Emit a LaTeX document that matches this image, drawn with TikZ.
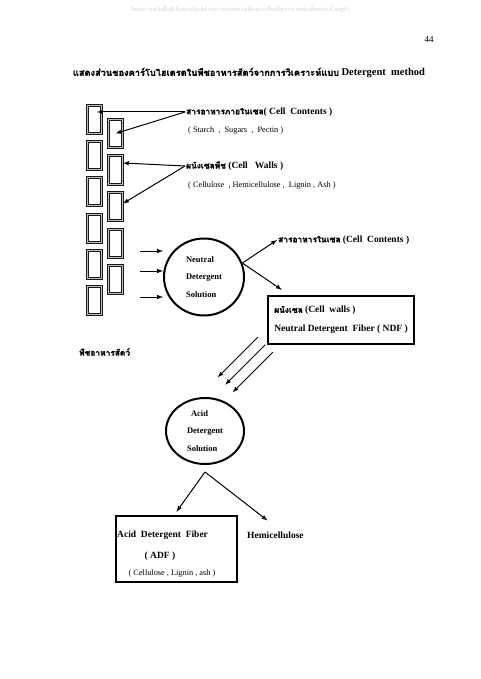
\documentclass[tikz,border=0pt]{standalone}
\usepackage{fontspec}
\setmainfont{Liberation Serif}
\newfontfamily\thaifont[Script=Thai, Scale=0.88, BoldFeatures={FakeBold=1.5}]{Loma}
\usetikzlibrary{arrows}
\usetikzlibrary{shapes.geometric}

\tikzset{
  cellbox/.style={draw=black!90, double=gray!50, double distance=1pt, line width=1pt,
    inner sep=0pt, minimum width=14pt, minimum height=28pt},
  solution/.style={ellipse, draw, line width=2pt, inner sep=0pt, align=left,
    font=\bfseries\fontsize{8.5}{17.5}\selectfont},
  fiberbox/.style={draw, line width=2.5pt, inner sep=0pt},
  lbl/.style={anchor=west, inner sep=1pt, font=\bfseries\fontsize{9.5}{19}\selectfont},
  sublbl/.style={anchor=west, inner sep=1pt, font=\fontsize{8.3}{9}\selectfont},
  arr/.style={-latex, line width=1pt},
}

\begin{document}
\begin{tikzpicture}[x=1pt, y=-1pt]
\useasboundingbox (0,0) rectangle (480,679);

\node[text=gray!35, font=\thaifont\fontsize{6.5}{7}\selectfont] (head) at (240,10)
  {โครงการหนังสืออิเล็กทรอนิกส์ด้านการเกษตร เฉลิมพระเกียรติพระบาทสมเด็จพระเจ้าอยู่หัว};
\node[font=\fontsize{9}{10}\selectfont] (page) at (429,40) {44};
\node[font=\bfseries\fontsize{10.5}{12}\selectfont] (title) at (249,73)
  {{\thaifont แสดงส่วนของคาร์โบไฮเดรตในพืชอาหารสัตว์จากการวิเคราะห์แบบ} Detergent\ \ method};

% plant cells
\foreach \i in {1,...,6}
  \node[cellbox] (l\i) at (94.5,{119.5+36.2*(\i-1)}) {};
\foreach \i in {1,...,5}
  \node[cellbox] (r\i) at (115.5,{133.5+36.5*(\i-1)}) {};

\node[lbl] (cc) at (185,112) {{\thaifont สารอาหารภายในเซล}( Cell\ \ Contents )};
\node[sublbl] (ccsub) at (187,131) {( Starch\ \ ,\ \ Sugars\ \ ,\ \ Pectin )};
\node[lbl] (cw) at (185,166) {{\thaifont ผนังเซลพืช} (Cell\ \ \ Walls )};
\node[sublbl] (cwsub) at (187,186) {( Cellulose\ \ , Hemicellulose , \ Lignin , Ash )};

\draw[arr] (cc.west) -- ([shift={(2.5,-7.5)}]l1.center);
\draw[arr] (cc.west) -- (r1.center);
\draw[arr] (cw.west) -- ([shift={(0,-7)}]r2.east);
\draw[arr] (cw.west) -- ([shift={(0,-3)}]r3.east);

\node[lbl] (plant) at (78,352) {\thaifont พืชอาหารสัตว์};

% neutral detergent
\node[solution, minimum width=80pt, minimum height=77pt] (nds) at (204,277)
  {Neutral\\Detergent\\Solution};
\foreach \y [count=\k] in {251,271,297} {
  \coordinate (in\k) at (140,\y);
  \draw[arr] (in\k) -- (in\k -| nds.west);
}

\node[lbl] (cin) at (277,240) {{\thaifont สารอาหารในเซล} (Cell\ \ Contents )};
\node[fiberbox, minimum width=146pt, minimum height=48pt, align=left,
  font=\bfseries\fontsize{9.5}{19}\selectfont] (ndf) at (341,320)
  {{\thaifont ผนังเซล} (Cell\ \ walls )\\Neutral Detergent\ \ Fiber ( NDF )};

\draw[arr] (nds.20) -- (cin.west);
\draw[arr] (nds.20) -- ([shift={(15,-5)}]ndf.north west);

\foreach \k in {0,1,2} {
  \coordinate (s\k) at ([shift={({-9+7.5*\k},{-8+7.5*\k})}]ndf.south west);
  \coordinate (e\k) at ([shift={(-40,40)}]s\k);
  \draw[arr] (s\k) -- (e\k);
}

% acid detergent
\node[solution, minimum width=78pt, minimum height=66pt] (ads) at (205,431)
  {\hspace*{4pt}Acid\\Detergent\\Solution};

\node[fiberbox, minimum width=121pt, minimum height=66pt] (adf) at (176.5,549) {};
\node[lbl] (adft) at (116,535) {Acid\ \ Detergent\ \ Fiber};
\node[lbl, anchor=center] (adfn) at (160,556) {( ADF )};
\node[sublbl, anchor=center] (adfc) at (172,574) {( Cellulose , Lignin , ash )};
\node[lbl] (hemi) at (246,535) {Hemicellulose};

\coordinate (fork) at ([yshift=-7pt]ads.south);
\draw[arr] (fork) -- ([yshift=3pt]adf.north);
\draw[arr] (fork) -- ([shift={(-8,-10)}]hemi.north);

\end{tikzpicture}
\end{document}
